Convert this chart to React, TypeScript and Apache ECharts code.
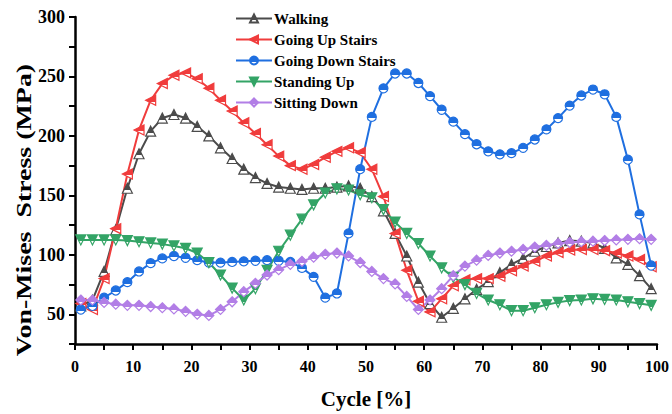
import React, { useEffect, useRef } from "react";
import * as echarts from "echarts";

// Gait-cycle position (%) of every sample
const cyclePct = [
  1, 3, 5, 7, 9, 11, 13, 15, 17, 19, 21, 23, 25, 27, 29, 31, 33, 35, 37, 39,
  41, 43, 45, 47, 49, 51, 53, 55, 57, 59, 61, 63, 65, 67, 69, 71, 73, 75, 77, 79,
  81, 83, 85, 87, 89, 91, 93, 95, 97, 99,
];

// Von-Mises stress (MPa) per activity
const walking = [
  57, 62, 86, 121, 156, 185, 204, 215, 218, 215, 208, 200, 190, 181, 172, 165, 160, 157, 156, 155,
  156, 156, 157, 158, 156, 149, 137, 118, 99, 77, 59, 47.5, 55, 63, 71, 77.5, 85, 92, 97, 103,
  107, 110, 112, 111.5, 110, 105.5, 97.5, 92, 82.5, 71.5,
];
const goingUpStairs = [
  59, 54, 80, 122, 168, 205, 230, 244, 251, 253, 248, 240, 230, 221, 211, 202, 192.5, 183, 175, 172,
  176, 182, 187, 190, 186, 172, 149, 118, 87, 61, 52, 63, 74, 79, 80, 80, 82, 86.5, 90.5, 94.5,
  99, 102, 104, 104.5, 104.5, 103.5, 101.5, 99, 96, 90,
];
const goingDownStairs = [
  54, 57, 64, 70, 77, 86, 93, 97, 99, 97.5, 95.5, 93.5, 93.5, 94, 94.5, 95, 95.5, 95, 94, 89,
  81.5, 64, 67.5, 118, 172, 216, 240, 252.5, 252.5, 244.5, 233.5, 222, 212, 201.5, 193, 187, 184.5, 185.5, 190, 197,
  205.5, 215, 225.5, 234, 239, 235, 216, 180, 134, 91,
];
const standingUp = [
  112.5, 112.5, 112.5, 112.5, 112, 111, 110, 109, 107.5, 105.5, 101.5, 93.5, 83, 72, 62, 71.5, 87, 103, 116.5, 130,
  142, 152, 155.5, 154.5, 150.5, 148, 138, 127.5, 118, 109.5, 99, 89, 81, 75, 67.5, 62, 58, 53, 53, 55.5,
  58, 60, 61.5, 62, 63, 62.5, 62, 60.5, 59, 57.5,
];
const sittingDown = [
  62, 62, 60, 58.5, 57.5, 57.5, 56.5, 55.5, 54.5, 52.5, 50, 49, 54, 60.5, 69, 76, 83, 87.5, 92, 94.5,
  98, 100.5, 101.5, 99, 93.5, 86, 80, 75.5, 65, 54, 62, 71.5, 82.5, 90.5, 95.5, 99.5, 101.5, 103, 104.5, 106.5,
  108, 109.5, 110.5, 111, 111.5, 112, 112.5, 113, 113.5, 113,
];

const seriesNames = [
  "Walking",
  "Going Up Stairs",
  "Going Down Stairs",
  "Standing Up",
  "Sitting Down",
];
const seriesValues = [walking, goingUpStairs, goingDownStairs, standingUp, sittingDown];
const seriesColors = ["#4b4b4b", "#f03c3c", "#1f6fe0", "#33a466", "#b27ee6"];
const seriesSymbols = [
  "triangle",
  "path://M0,5 L10,0 L10,10 Z",
  "circle",
  "path://M0,0 L10,0 L5,10 Z",
  "diamond",
];
const seriesSymbolSizes = [10, 10, 9, 10, 10];

const FONT = '"Liberation Serif", "Times New Roman", serif';

// Upper part in the series colour, lower part white
const halfFill = (c: string) =>
  new echarts.graphic.LinearGradient(0, 0, 0, 1, [
    { offset: 0, color: c },
    { offset: 0.65, color: c },
    { offset: 0.65, color: "#ffffff" },
    { offset: 1, color: "#ffffff" },
  ]);

export default function App() {
  const ref = useRef<HTMLDivElement>(null);

  useEffect(() => {
    if (!ref.current) return;
    const chart = echarts.init(ref.current, null, { renderer: "svg" });

    const series = seriesNames.map((name, i) => ({
      name,
      type: "line",
      data: cyclePct.map((x, j) => [x, seriesValues[i][j]]),
      symbol: seriesSymbols[i],
      symbolSize: seriesSymbolSizes[i],
      showAllSymbol: true,
      lineStyle: { color: seriesColors[i], width: 2 },
      itemStyle: {
        color: halfFill(seriesColors[i]),
        borderColor: seriesColors[i],
        borderWidth: 1.2,
      },
      emphasis: { disabled: true },
    }));

    chart.setOption({
      animation: false,
      backgroundColor: "#ffffff",
      textStyle: { fontFamily: FONT },
      grid: { left: 75, right: 14, top: 17, bottom: 60, containLabel: false },
      legend: {
        orient: "vertical",
        left: 230,
        top: 6,
        itemWidth: 36,
        itemHeight: 10,
        itemGap: 6,
        data: seriesNames,
        textStyle: {
          fontFamily: FONT,
          fontWeight: "bold",
          fontSize: 15,
          color: "#000",
          padding: [0, 0, 0, -3],
        },
      },
      xAxis: {
        type: "value",
        min: 0,
        max: 100,
        interval: 5,
        name: "Cycle [%]",
        nameLocation: "middle",
        nameGap: 44,
        nameTextStyle: { fontFamily: FONT, fontWeight: "bold", fontSize: 21, color: "#000" },
        axisLine: { show: true, onZero: false, lineStyle: { color: "#000", width: 2.5 } },
        axisTick: { show: true, inside: false, length: 6, lineStyle: { color: "#000", width: 2 } },
        axisLabel: {
          margin: 14,
          fontFamily: FONT,
          fontWeight: "bold",
          fontSize: 16,
          color: "#000",
          formatter: (v: number) => (v % 10 === 0 ? String(v) : ""),
        },
        splitLine: { show: false },
      },
      yAxis: {
        type: "value",
        min: 25,
        max: 300,
        interval: 25,
        axisLine: { show: true, onZero: false, lineStyle: { color: "#000", width: 2.5 } },
        axisTick: { show: true, inside: false, length: 6, lineStyle: { color: "#000", width: 2 } },
        axisLabel: {
          margin: 10,
          fontFamily: FONT,
          fontWeight: "bold",
          fontSize: 18,
          color: "#000",
          formatter: (v: number) => (v % 50 === 0 ? String(v) : ""),
        },
        splitLine: { show: false },
      },
      graphic: [
        {
          type: "text",
          x: 24,
          y: 210,
          rotation: Math.PI / 2,
          scaleX: 1.27,
          style: {
            text: "Von-Mises  Stress (MPa)",
            font: `bold 22px ${FONT}`,
            fill: "#000",
            align: "center",
            verticalAlign: "middle",
          },
        },
      ],
      series,
    });

    return () => chart.dispose();
  }, []);

  return (
    <div
      ref={ref}
      style={{ position: "fixed", left: 0, top: 0, width: 672, height: 414 }}
    />
  );
}
